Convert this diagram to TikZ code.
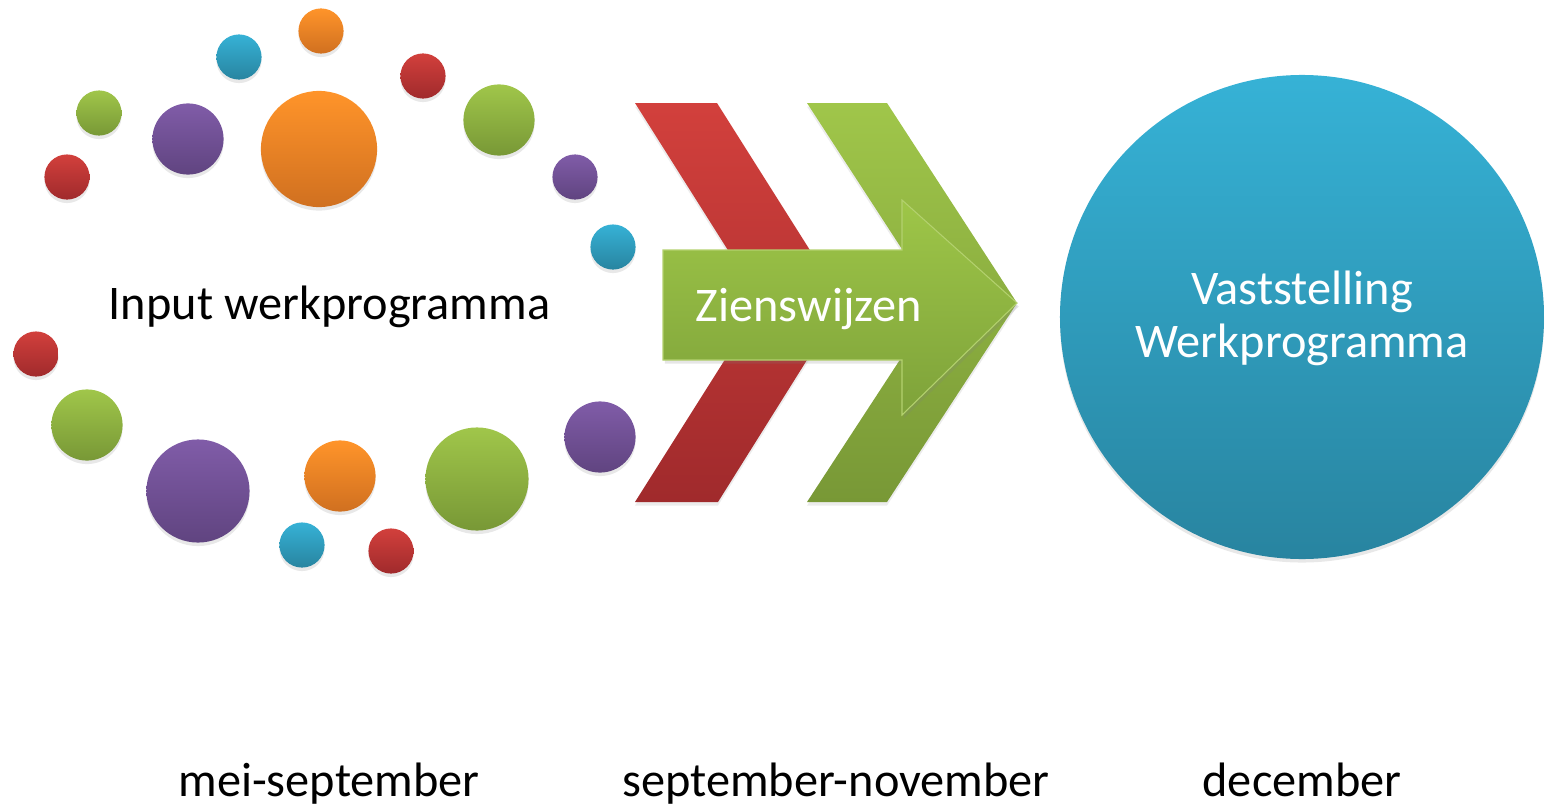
\documentclass[tikz,border=0pt]{standalone}
\usepackage{fontspec}
\setmainfont{Carlito}
\usetikzlibrary{shadows}

\definecolor{oranjeT}{RGB}{255,148,42}
\definecolor{oranjeB}{RGB}{208,112,32}
\definecolor{groenT}{RGB}{160,198,74}
\definecolor{groenB}{RGB}{120,152,54}
\definecolor{roodT}{RGB}{210,64,60}
\definecolor{roodB}{RGB}{160,42,44}
\definecolor{paarsT}{RGB}{128,92,168}
\definecolor{paarsB}{RGB}{96,68,128}
\definecolor{blauwT}{RGB}{54,178,214}
\definecolor{blauwB}{RGB}{40,132,160}
\definecolor{pijlT}{RGB}{158,198,72}
\definecolor{pijlB}{RGB}{126,162,58}

\tikzset{
	bol/.style={circle, inner sep=0pt, drop shadow={opacity=0.18, shadow xshift=0pt, shadow yshift=-2pt}},
	klein/.style={minimum size=25.7pt},
	middel/.style={minimum size=40.5pt},
	groot/.style={minimum size=58.7pt},
	reus/.style={minimum size=66.1pt},
	oranje/.style={top color=oranjeT, bottom color=oranjeB},
	groen/.style={top color=groenT, bottom color=groenB},
	rood/.style={top color=roodT, bottom color=roodB},
	paars/.style={top color=paarsT, bottom color=paarsB},
	blauw/.style={top color=blauwT, bottom color=blauwB},
	tekst/.style={font=\fontsize{27.5}{30}\selectfont, anchor=base, inner sep=0pt}
}

\begin{document}
\begin{tikzpicture}[x=0.02cm, y=-0.02cm]
		\useasboundingbox (0,0) rectangle (1545,808);
		% bollen boven
		\node (b1)[bol, klein, oranje] at (321,31) {};
		\node (b2)[bol, klein, blauw] at (239,57) {};
		\node (b3)[bol, klein, groen] at (99,113) {};
		\node (b4)[bol, klein, rood] at (67,177) {};
		\node (b5)[bol, middel, paars] at (188,139) {};
		\node (b6)[bol, reus, oranje] at (319,149) {};
		\node (b7)[bol, klein, rood] at (423,76) {};
		\node (b8)[bol, middel, groen] at (499,120) {};
		\node (b9)[bol, klein, paars] at (575,177) {};
		\node (b10)[bol, klein, blauw] at (613,247) {};
		% bollen onder
		\node (b11)[bol, klein, rood] at (36,354) {};
		\node (b12)[bol, middel, groen] at (87,425) {};
		\node (b13)[bol, groot, paars] at (198,491) {};
		\node (b14)[bol, middel, oranje] at (340,476) {};
		\node (b15)[bol, klein, blauw] at (302,545) {};
		\node (b16)[bol, klein, rood] at (391,551) {};
		\node (b17)[bol, groot, groen] at (477,479) {};
		\node (b18)[bol, middel, paars] at (600,437) {};
		\node (input)[tekst] at (329.5,319) {Input werkprogramma};
		% chevrons
		\shade[top color=roodT, bottom color=roodB, drop shadow={opacity=0.15, shadow xshift=0pt, shadow yshift=-2pt}]
			(635,103) -- (717,103) -- (843,302.5) -- (718,502) -- (635,502) -- (761,302.5) -- cycle;
		\shade[top color=groenT, bottom color=groenB, drop shadow={opacity=0.15, shadow xshift=0pt, shadow yshift=-2pt}]
			(807,103) -- (887,103) -- (1017,303) -- (887,502) -- (807,502) -- (937,303) -- cycle;
		\shade[top color=pijlT, bottom color=pijlB, draw=groenT!80!white, line width=0.6pt,
			drop shadow={opacity=0.2, shadow xshift=1pt, shadow yshift=-2pt}]
			(663,250) -- (902,250) -- (902,200) -- (1017,303) -- (902,415) -- (902,360) -- (663,360) -- cycle;
		\node (zien)[tekst, text=white] at (809,321.5) {Zienswijzen};
		% vaststelling
		\node (vast)[bol, blauw, minimum size=275.5pt] at (1302,317) {};
		\node (vasttekst)[tekst, text=white, align=center] at (1302,357) {Vaststelling\\Werkprogramma};
		% periodes
		\node (p1)[tekst] at (329,796) {mei-september};
		\node (p2)[tekst] at (836,796) {september-november};
		\node (p3)[tekst] at (1302,796) {december};
	\end{tikzpicture}
\end{document}
